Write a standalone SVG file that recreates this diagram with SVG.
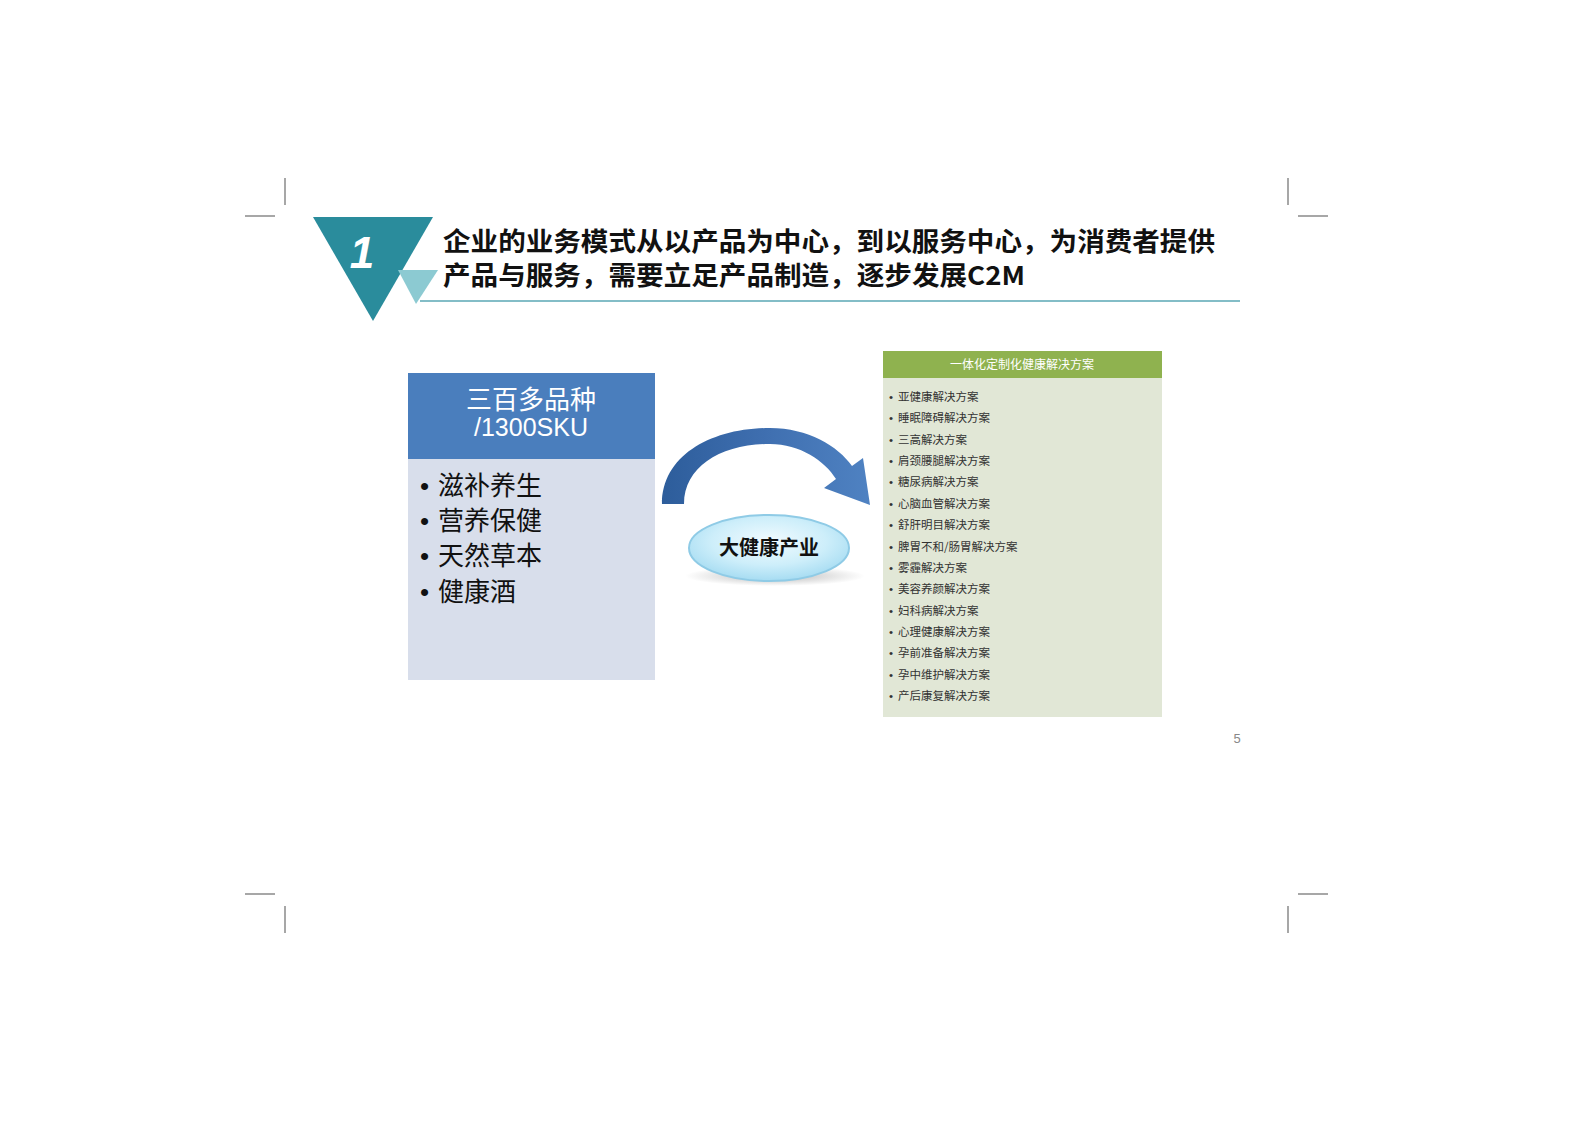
<svg xmlns="http://www.w3.org/2000/svg" width="1587" height="1122" viewBox="0 0 1587 1122">
<defs>
<style>
.crop{stroke:#8a8a8a;stroke-width:1.5;fill:none}
.cjk{font-family:"Noto Sans CJK SC","Liberation Sans",sans-serif}
.dot{font-family:"Liberation Sans",sans-serif}
.title{font-size:26px;font-weight:bold;fill:#111}
.bul{font-size:26px;fill:#111}
.item{font-size:11.5px;fill:#333}
</style>
<linearGradient id="arrowGrad" x1="0" y1="0" x2="1" y2="0">
<stop offset="0" stop-color="#2d5d9b"/>
<stop offset="0.5" stop-color="#3f6fb0"/>
<stop offset="1" stop-color="#4f82c2"/>
</linearGradient>
<radialGradient id="ellGrad" cx="0.5" cy="0.4" r="0.6">
<stop offset="0" stop-color="#f2fbff"/>
<stop offset="0.6" stop-color="#cdeefa"/>
<stop offset="1" stop-color="#a6dcf2"/>
</radialGradient>
<radialGradient id="shadowGrad" cx="0.5" cy="0.5" r="0.5">
<stop offset="0" stop-color="#888" stop-opacity="0.6"/>
<stop offset="1" stop-color="#888" stop-opacity="0"/>
</radialGradient>
</defs>
<rect width="1587" height="1122" fill="#ffffff"/>

<g id="crop-marks">
<line class="crop" x1="285" y1="178" x2="285" y2="205"/>
<line class="crop" x1="245" y1="216" x2="275" y2="216"/>
<line class="crop" x1="1288" y1="178" x2="1288" y2="205"/>
<line class="crop" x1="1298" y1="216" x2="1328" y2="216"/>
<line class="crop" x1="245" y1="894" x2="275" y2="894"/>
<line class="crop" x1="285" y1="906" x2="285" y2="933"/>
<line class="crop" x1="1298" y1="894" x2="1328" y2="894"/>
<line class="crop" x1="1288" y1="906" x2="1288" y2="933"/>
</g>

<g id="title-badge">
<polygon points="313,217 433,217 373,321" fill="#2a8c9c"/>
<polygon points="398,270 438,270 416,304" fill="#8ccad2"/>
<text x="362" y="268" font-family="Liberation Sans, sans-serif" font-size="44" font-weight="bold" font-style="italic" fill="#ffffff" text-anchor="middle">1</text>
</g>

<g id="title">
<text class="cjk title" x="443" y="251" textLength="772" lengthAdjust="spacingAndGlyphs">企业的业务模式从以产品为中心，到以服务中心，为消费者提供</text>
<text class="cjk title" x="443" y="285" textLength="582" lengthAdjust="spacingAndGlyphs">产品与服务，需要立足产品制造，逐步发展C2M</text>
<line x1="420" y1="301" x2="1240" y2="301" stroke="#5aa7b4" stroke-width="1.5"/>
</g>

<g id="product-box">
<rect x="408" y="373" width="247" height="307" fill="#d8deeb"/>
<rect x="408" y="373" width="247" height="86" fill="#4a7ebd"/>
<text class="cjk" x="531" y="409" font-size="26" fill="#ffffff" text-anchor="middle">三百多品种</text>
<text x="531" y="436" font-family="Liberation Sans, sans-serif" font-size="25" fill="#ffffff" text-anchor="middle">/1300SKU</text>
<g class="bul">
<text class="dot" x="420" y="495">•</text><text class="cjk" x="438" y="495">滋补养生</text>
<text class="dot" x="420" y="530">•</text><text class="cjk" x="438" y="530">营养保健</text>
<text class="dot" x="420" y="565">•</text><text class="cjk" x="438" y="565">天然草本</text>
<text class="dot" x="420" y="601">•</text><text class="cjk" x="438" y="601">健康酒</text>
</g>
</g>

<g id="connectors">
<path d="M662,504 C662,455 712,428 770,428 C808,428 838,446 852,466 L863,458 L870,505 L824,488 L836,479 C825,461 800,444 770,444 C722,444 684,466 684,504 Z" fill="url(#arrowGrad)"/>
</g>

<g id="industry-ellipse">
<ellipse cx="775" cy="576" rx="90" ry="10" fill="url(#shadowGrad)"/>
<ellipse cx="769" cy="548" rx="80" ry="33" fill="url(#ellGrad)" stroke="#8fcbe6" stroke-width="2"/>
<text class="cjk" x="769" y="555" font-size="20" font-weight="bold" fill="#111" text-anchor="middle">大健康产业</text>
</g>

<g id="solution-box">
<rect x="883" y="351" width="279" height="366" fill="#e1e7d6"/>
<rect x="883" y="351" width="279" height="27" fill="#8fb24f"/>
<text class="cjk" x="1022" y="369" font-size="12" fill="#ffffff" text-anchor="middle">一体化定制化健康解决方案</text>
<g class="item">
<text class="dot" x="889" y="401">•</text><text class="cjk" x="898" y="401">亚健康解决方案</text>
<text class="dot" x="889" y="422">•</text><text class="cjk" x="898" y="422">睡眠障碍解决方案</text>
<text class="dot" x="889" y="444">•</text><text class="cjk" x="898" y="444">三高解决方案</text>
<text class="dot" x="889" y="465">•</text><text class="cjk" x="898" y="465">肩颈腰腿解决方案</text>
<text class="dot" x="889" y="486">•</text><text class="cjk" x="898" y="486">糖尿病解决方案</text>
<text class="dot" x="889" y="508">•</text><text class="cjk" x="898" y="508">心脑血管解决方案</text>
<text class="dot" x="889" y="529">•</text><text class="cjk" x="898" y="529">舒肝明目解决方案</text>
<text class="dot" x="889" y="551">•</text><text class="cjk" x="898" y="551">脾胃不和/肠胃解决方案</text>
<text class="dot" x="889" y="572">•</text><text class="cjk" x="898" y="572">雾霾解决方案</text>
<text class="dot" x="889" y="593">•</text><text class="cjk" x="898" y="593">美容养颜解决方案</text>
<text class="dot" x="889" y="615">•</text><text class="cjk" x="898" y="615">妇科病解决方案</text>
<text class="dot" x="889" y="636">•</text><text class="cjk" x="898" y="636">心理健康解决方案</text>
<text class="dot" x="889" y="657">•</text><text class="cjk" x="898" y="657">孕前准备解决方案</text>
<text class="dot" x="889" y="679">•</text><text class="cjk" x="898" y="679">孕中维护解决方案</text>
<text class="dot" x="889" y="700">•</text><text class="cjk" x="898" y="700">产后康复解决方案</text>
</g>
</g>

<text x="1237" y="743" font-family="Liberation Sans, sans-serif" font-size="13" fill="#888" text-anchor="middle">5</text>
</svg>
